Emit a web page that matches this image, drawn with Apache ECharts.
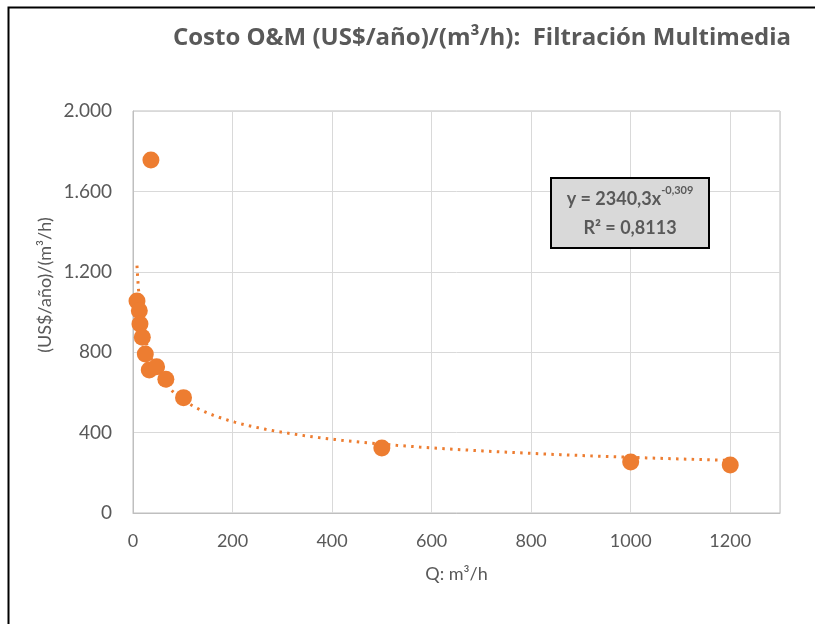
<!DOCTYPE html>
<html>
<head>
<meta charset="utf-8">
<script src="https://cdn.jsdelivr.net/npm/echarts@6/dist/echarts.min.js"></script>
<style>
  html, body { margin: 0; padding: 0; background: #ffffff; }
  #chart { width: 815px; height: 624px; }
</style>
</head>
<body>
<div id="chart"></div>
<script>
// Caudal (m3/h) y costo O&M por unidad de caudal
const caudal = [8, 12.7, 14, 18.7, 24.7, 32.7, 36, 47.4, 66, 101.5, 500, 1000, 1200];
const costo  = [1055, 1006, 940, 874, 791, 711, 1756, 728, 665, 574, 323, 254, 239];

// Ejes
const xTicks = [0, 200, 400, 600, 800, 1000, 1200];
const yTicks = [0, 400, 800, 1200, 1600, 2000];

// Línea de tendencia potencial: y = a * x^b
const trendA = 2340.3;
const trendB = -0.309;
const trendR2 = 0.8113;

const ORANGE = '#ED7D31';
const TEXT = '#595959';
const FONT = 'Lato';
const TITLE_FONT = 'Open Sans';

const fmtComma = v => String(v).replace('.', ',');
const fmtThousands = v => v >= 1000 ? String(v).replace(/\B(?=(\d{3})+(?!\d))/g, '.') : String(v);

// Curva de tendencia entre el caudal mínimo y el máximo
const xMin = Math.min(...caudal), xMax = Math.max(...caudal);
const trend = [];
const steps = 300;
for (let i = 0; i <= steps; i++) {
  const x = xMin * Math.pow(xMax / xMin, i / steps);
  trend.push([x, trendA * Math.pow(x, trendB)]);
}

const chart = echarts.init(document.getElementById('chart'));
chart.setOption({
  animation: false,
  backgroundColor: '#ffffff',
  textStyle: { fontFamily: FONT },
  grid: { left: 133, right: 35, top: 111, bottom: 111, show: true, borderColor: '#BFBFBF', borderWidth: 1 },
  xAxis: {
    type: 'value',
    min: xTicks[0],
    max: 1300,
    interval: xTicks[1] - xTicks[0],
    name: 'Q: m³/h',
    nameLocation: 'middle',
    nameGap: 52,
    nameTextStyle: { color: TEXT, fontSize: 18, fontFamily: FONT },
    axisLine: { show: true, lineStyle: { color: '#BFBFBF' } },
    axisTick: { show: false },
    axisLabel: { color: TEXT, fontSize: 18, margin: 19, showMaxLabel: false, fontFamily: FONT, formatter: v => String(v) },
    splitLine: { show: true, lineStyle: { color: '#D9D9D9' } }
  },
  yAxis: {
    type: 'value',
    min: yTicks[0],
    max: yTicks[yTicks.length - 1],
    interval: yTicks[1] - yTicks[0],
    axisLine: { show: true, lineStyle: { color: '#BFBFBF' } },
    axisTick: { show: false },
    axisLabel: { color: TEXT, fontSize: 19, margin: 21, formatter: fmtThousands, fontFamily: FONT },
    splitLine: { show: true, lineStyle: { color: '#D9D9D9' } }
  },
  series: [
    {
      type: 'line',
      data: trend,
      showSymbol: false,
      smooth: false,
      lineStyle: { color: ORANGE, width: 3, type: [2.5, 5.3] },
      silent: true,
      z: 2
    },
    {
      type: 'scatter',
      data: caudal.map((x, i) => [x, costo[i]]),
      symbolSize: 17,
      itemStyle: { color: ORANGE, opacity: 1 },
      z: 3
    }
  ],
  graphic: [
    {
      type: 'rect',
      left: 6, top: 5,
      shape: { width: 830, height: 650 },
      style: { fill: 'none', stroke: '#000000', lineWidth: 2 },
      silent: true
    },
    {
      type: 'text',
      x: 482, y: 38,
      style: {
        text: 'Costo O&M (US$/año)/(m³/h):  Filtración Multimedia',
        fill: TEXT,
        font: 'bold 24px ' + TITLE_FONT,
        align: 'center',
        verticalAlign: 'middle'
      }
    },
    {
      type: 'text',
      x: 45, y: 285,
      rotation: Math.PI / 2,
      style: {
        text: '(US$/año)/(m³/h)',
        fill: TEXT,
        font: '18px ' + FONT,
        align: 'center',
        verticalAlign: 'middle'
      }
    },
    {
      type: 'text',
      x: 630, y: 213,
      z: 10,
      style: {
        text: '{b|y = ' + fmtComma(trendA) + 'x}{s|' + fmtComma(trendB) + '}\n{b|R² = ' + fmtComma(trendR2) + '}',
        align: 'center',
        verticalAlign: 'middle',
        backgroundColor: '#D9D9D9',
        borderColor: '#000000',
        borderWidth: 2,
        padding: [6, 4, 4, 4],
        width: 148,
        rich: {
          b: { font: 'bold 18px ' + FONT, fill: TEXT, lineHeight: 29, align: 'center' },
          s: { font: 'bold 11px ' + FONT, fill: TEXT, verticalAlign: 'top', lineHeight: 29, padding: [0, 0, 8, 0] }
        }
      }
    }
  ]
});
</script>
</body>
</html>
